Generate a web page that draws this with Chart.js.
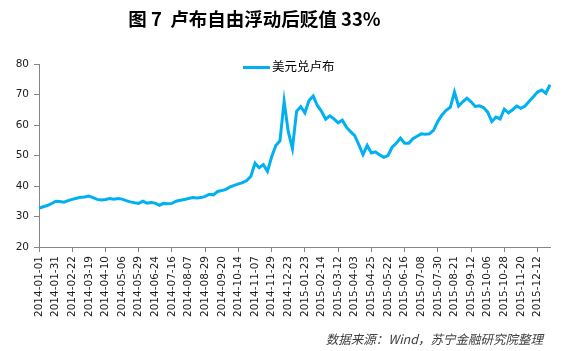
<!DOCTYPE html>
<html>
<head>
<meta charset="utf-8">
<script src="https://cdn.jsdelivr.net/npm/chart.js@4/dist/chart.umd.min.js"></script>
<style>
body { margin: 0; background: #fff; }
#wrap { position: relative; width: 568px; height: 351px; }
#title { position: absolute; left: 0; width: 509px; top: 9px; text-align: center;
  font: bold 18.5px/18px "Noto Sans CJK SC"; color: #000; }
#legend { position: absolute; left: 243px; top: 58px; font: 12.5px/16px "Noto Sans CJK SC"; color: #000; white-space: nowrap; }
#legend span { display: inline-block; width: 27px; height: 3px; background: #00B0F0; vertical-align: middle; margin-right: 2px; }
#src { position: absolute; right: 25px; top: 333px; font: italic 12.5px/12.5px "Noto Sans CJK SC"; color: #404040; }
</style>
</head>
<body>
<div id="wrap">
<canvas id="myChart" width="568" height="351"></canvas>
<div id="title">图 7&nbsp;&nbsp;卢布自由浮动后贬值 33%</div>
<div id="legend"><span></span>美元兑卢布</div>
<div id="src">数据来源：Wind，苏宁金融研究院整理</div>
</div>
<script>
var seriesName = '美元兑卢布';
var lineColor = '#00B0F0';

var tickLabels = ['2014-01-01', '2014-01-31', '2014-02-22', '2014-03-19', '2014-04-10', '2014-05-06',
  '2014-05-29', '2014-06-24', '2014-07-16', '2014-08-07', '2014-08-29', '2014-09-20', '2014-10-14',
  '2014-11-07', '2014-11-29', '2014-12-23', '2015-01-23', '2015-02-14', '2015-03-12', '2015-04-03',
  '2015-04-25', '2015-05-22', '2015-06-16', '2015-07-08', '2015-07-30', '2015-08-21', '2015-09-12',
  '2015-10-06', '2015-10-28', '2015-11-20', '2015-12-12'];

// 4 readings per labelled interval
var rubValues = [
  32.7, 33.2, 33.6, 34.2, 35.0, 34.9, 34.7, 35.2, 35.6, 36.0,
  36.3, 36.4, 36.7, 36.2, 35.6, 35.4, 35.6, 35.9, 35.7, 35.9,
  35.7, 35.2, 34.8, 34.5, 34.3, 35.0, 34.4, 34.6, 34.4, 33.7,
  34.3, 34.2, 34.3, 35.0, 35.3, 35.6, 35.9, 36.2, 36.1, 36.2,
  36.6, 37.3, 37.1, 38.2, 38.5, 38.9, 39.7, 40.2, 40.7, 41.1,
  41.8, 43.2, 47.5, 46.0, 47.0, 44.8, 49.6, 53.3, 54.8, 67.8,
  57.8, 52.3, 64.5, 66.0, 64.0, 68.0, 69.5, 66.4, 64.5, 61.9,
  63.0, 62.0, 60.7, 61.6, 59.3, 57.8, 56.5, 53.5, 50.3, 53.3,
  50.8, 51.2, 50.2, 49.4, 50.0, 52.7, 54.0, 55.7, 54.0, 54.0,
  55.5, 56.3, 57.1, 57.0, 57.1, 58.3, 61.2, 63.3, 64.8, 65.8,
  70.8, 66.2, 67.6, 68.8, 67.6, 66.1, 66.3, 65.7, 64.2, 61.1,
  62.6, 62.0, 65.2, 64.0, 65.0, 66.2, 65.5, 66.2, 67.8, 69.3,
  70.8, 71.5, 70.4, 73.2];

var perLabel = 4;
var categories = rubValues.map(function (v, i) {
  return i % perLabel === 0 ? (tickLabels[i / perLabel] || '') : '';
});

var axisGray = '#868686';
var tickFont = { family: 'DejaVu Sans', size: 10.5 };

var ctx = document.getElementById('myChart').getContext('2d');
var myChart = new Chart(ctx, {
  type: 'line',
  data: {
    labels: categories,
    datasets: [{
      label: seriesName,
      data: rubValues,
      borderColor: lineColor,
      backgroundColor: lineColor,
      borderWidth: 3,
      pointRadius: 0,
      fill: false,
      tension: 0
    }]
  },
  options: {
    responsive: false,
    animation: false,
    layout: { padding: { left: 0, right: 18, top: 64, bottom: 0 } },
    plugins: { legend: { display: false }, tooltip: { enabled: false } },
    scales: {
      x: {
        afterFit: function (scale) { scale.height = 104; },
        grid: {
          drawOnChartArea: false,
          tickLength: 5,
          color: function (c) { return c.index % (perLabel * 2) === 0 ? axisGray : 'rgba(0,0,0,0)'; }
        },
        border: { color: axisGray },
        ticks: { autoSkip: false, maxRotation: 90, minRotation: 90, padding: 4, color: '#222', font: tickFont }
      },
      y: {
        min: 20,
        max: 80,
        afterFit: function (scale) { scale.width = 39; },
        grid: { drawOnChartArea: false, tickLength: 5, color: axisGray },
        border: { color: axisGray },
        ticks: { stepSize: 10, padding: 5, color: '#222', font: tickFont }
      }
    }
  }
});
</script>
</body>
</html>
